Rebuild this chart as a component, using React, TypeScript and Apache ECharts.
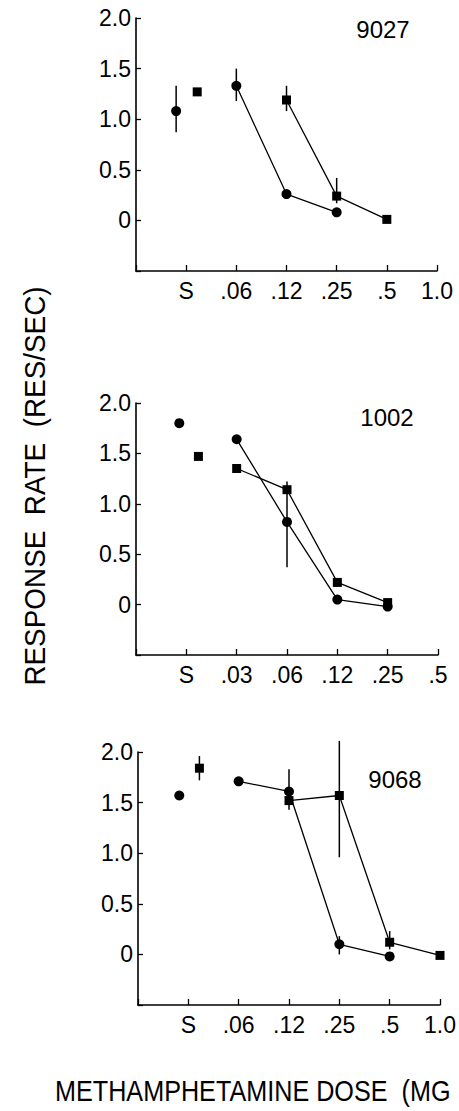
import React, { useEffect, useRef } from "react";
import * as echarts from "echarts";

// Dose tick labels per panel (index = position on the x axis)
const doseLabels1 = ["", "S", ".06", ".12", ".25", ".5", "1.0"];
const doseLabels2 = ["", "S", ".03", ".06", ".12", ".25", ".5"];
const doseLabels3 = ["", "S", ".06", ".12", ".25", ".5", "1.0"];

const yTicks = [-0.5, 0, 0.5, 1.0, 1.5, 2.0];

// Panel 9027
const circleS1 = [[0.8, 1.08]];
const squareS1 = [[1.22, 1.27]];
const circleLine1 = [[2, 1.33], [3, 0.26], [4, 0.08]];
const squareLine1 = [[3, 1.19], [4, 0.24], [5, 0.01]];
const errors1 = [[0.8, 0.87, 1.33], [2, 1.18, 1.5], [3, 1.08, 1.33], [4, 0.17, 0.42]];

// Panel 1002
const circleS2 = [[0.86, 1.8]];
const squareS2 = [[1.24, 1.47]];
const circleLine2 = [[2, 1.64], [3, 0.82], [4, 0.05], [5, -0.02]];
const squareLine2 = [[2, 1.35], [3, 1.14], [4, 0.22], [5, 0.02]];
const errors2 = [[3, 0.37, 1.22]];

// Panel 9068
const circleS3 = [[0.82, 1.57]];
const squareS3 = [[1.22, 1.84]];
const circleLine3 = [[2, 1.71], [3, 1.61], [4, 0.1], [5, -0.02]];
const squareLine3 = [[3, 1.52], [4, 1.57], [5, 0.12], [6, -0.01]];
const errors3 = [[1.22, 1.72, 1.96], [3, 1.43, 1.83], [4, 0.96, 2.11], [4, 0.0, 0.18], [5, 0.05, 0.23]];

const panelNames = ["9027", "1002", "9068"];
const yTitle = "RESPONSE\u00a0\u00a0RATE\u00a0\u00a0(RES/SEC)";
const xTitle = "METHAMPHETAMINE\u00a0DOSE\u00a0\u00a0(MG";

const panels = [
  { labels: doseLabels1, cS: circleS1, sS: squareS1, cL: circleLine1, sL: squareLine1, err: errors1 },
  { labels: doseLabels2, cS: circleS2, sS: squareS2, cL: circleLine2, sL: squareLine2, err: errors2 },
  { labels: doseLabels3, cS: circleS3, sS: squareS3, cL: circleLine3, sL: squareLine3, err: errors3 },
];

const grids = [
  { left: 136, top: 18, width: 301, height: 253 },
  { left: 136, top: 403, width: 302, height: 252 },
  { left: 138, top: 752, width: 302, height: 253 },
];
const nameSpots = [
  { x: 383, y: 29 },
  { x: 387, y: 417 },
  { x: 395, y: 779 },
];

const FONT = "Liberation Sans";

export default function App() {
  const ref = useRef<HTMLDivElement>(null);
  useEffect(() => {
    if (!ref.current) return;
    const chart = echarts.init(ref.current, null, { renderer: "svg" });
    const xAxis: any[] = [];
    const yAxis: any[] = [];
    const series: any[] = [];
    panels.forEach((p, i) => {
      xAxis.push({
        type: "value",
        gridIndex: i,
        min: 0,
        max: p.labels.length - 1,
        interval: 1,
        axisLine: { onZero: false, lineStyle: { color: "#000", width: 1.6 } },
        axisTick: { inside: true, length: 6, lineStyle: { color: "#000", width: 1.3 } },
        axisLabel: {
          color: "#000",
          fontFamily: FONT,
          fontSize: 23,
          margin: 8,
          formatter: (v: number) => p.labels[Math.round(v)] ?? "",
        },
        splitLine: { show: false },
      });
      yAxis.push({
        type: "value",
        gridIndex: i,
        min: yTicks[0],
        max: yTicks[yTicks.length - 1],
        interval: 0.5,
        axisLine: { show: true, onZero: false, lineStyle: { color: "#000", width: 1.6 } },
        axisTick: { show: true, inside: true, length: 5, lineStyle: { color: "#000", width: 1.3 } },
        axisLabel: {
          color: "#000",
          fontFamily: FONT,
          fontSize: 23,
          margin: 5,
          formatter: (v: number) => (v < 0 ? "" : v === 0 ? "0" : v.toFixed(1)),
        },
        splitLine: { show: false },
      });
      const base = { xAxisIndex: i, yAxisIndex: i, silent: true };
      series.push({
        ...base,
        type: "custom",
        data: p.err,
        encode: { x: 0, y: [1, 2] },
        renderItem: (params: any, api: any) => {
          const x = api.value(0);
          const a = api.coord([x, api.value(1)]);
          const b = api.coord([x, api.value(2)]);
          return {
            type: "line",
            shape: { x1: a[0], y1: a[1], x2: b[0], y2: b[1] },
            style: { stroke: "#000", lineWidth: 1.5 },
          };
        },
        z: 1,
      });
      series.push({
        ...base,
        type: "line",
        data: p.cL,
        symbol: "circle",
        symbolSize: 10,
        lineStyle: { color: "#000", width: 1.3 },
        itemStyle: { color: "#000", opacity: 1 },
        z: 3,
      });
      series.push({
        ...base,
        type: "line",
        data: p.sL,
        symbol: "rect",
        symbolSize: 9,
        lineStyle: { color: "#000", width: 1.3 },
        itemStyle: { color: "#000", opacity: 1 },
        z: 3,
      });
      series.push({
        ...base,
        type: "scatter",
        data: p.cS,
        symbol: "circle",
        symbolSize: 10,
        itemStyle: { color: "#000", opacity: 1 },
        z: 3,
      });
      series.push({
        ...base,
        type: "scatter",
        data: p.sS,
        symbol: "rect",
        symbolSize: 9,
        itemStyle: { color: "#000", opacity: 1 },
        z: 3,
      });
    });

    const graphic: any[] = panelNames.map((n, i) => ({
      type: "text",
      x: nameSpots[i].x,
      y: nameSpots[i].y,
      style: {
        text: n,
        fill: "#000",
        font: `24px "${FONT}"`,
        align: "center",
        verticalAlign: "middle",
      },
    }));
    graphic.push({
      type: "text",
      x: 35,
      y: 486,
      rotation: Math.PI / 2,
      scaleX: 0.93,
      style: {
        text: yTitle,
        fill: "#000",
        font: `30px "${FONT}"`,
        align: "center",
        verticalAlign: "middle",
      },
    });
    graphic.push({
      type: "text",
      x: 55,
      y: 1091,
      scaleX: 0.84,
      style: {
        text: xTitle,
        fill: "#000",
        font: `30px "${FONT}"`,
        align: "left",
        verticalAlign: "middle",
      },
    });

    chart.setOption({
      animation: false,
      backgroundColor: "#fff",
      grid: grids,
      xAxis,
      yAxis,
      series,
      graphic,
    });
    return () => chart.dispose();
  }, []);
  return (
    <div
      ref={ref}
      style={{ position: "absolute", left: 0, top: 0, width: 459, height: 1111 }}
    />
  );
}
